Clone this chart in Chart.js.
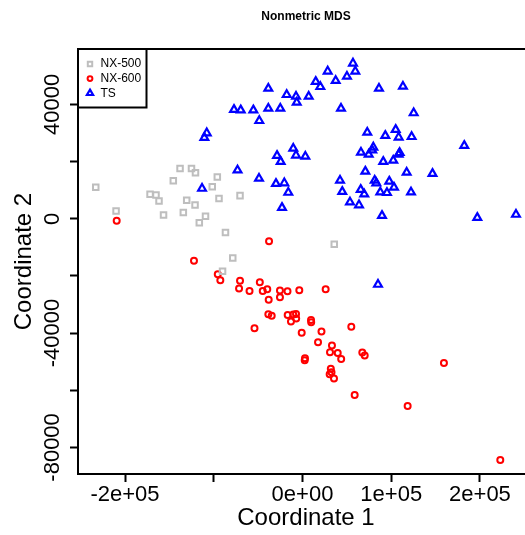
<!DOCTYPE html>
<html><head><meta charset="utf-8">
<script src="https://cdn.jsdelivr.net/npm/chart.js@4/dist/chart.umd.min.js"></script>
<style>
html,body{margin:0;padding:0;overflow:hidden;background:#fff;width:525px;height:535px}
#wrap{width:545px;height:535px;position:relative}
canvas{display:block}
</style></head>
<body><div id="wrap"><canvas id="c" width="545" height="535"></canvas></div>
<script>
const seriesNames = ['NX-500', 'NX-600', 'TS'];

const nx500X = [-233000,-210100,-171800,-165100,-161700,-156600,-145600,-138000,-134300,-130500,-125100,-120600,-121100,-116300,-109300,-101700,-96000,-94100,-86800,-78600,-90100,-70400,35800];
const nx500Y = [11000,2700,8600,8300,6200,1300,13300,17600,2200,6500,17600,16100,4800,-1400,900,11200,14600,7100,-4800,-13700,-18400,8100,-8900];

const nx600X = [-209400,-122300,-95500,-92600,-70400,-71500,-59700,-48100,-44800,-39700,-38100,-25400,-25400,-16900,-3600,26100,-37700,-38500,-34700,-54100,-16700,-10400,-7300,-7100,-13000,9600,9800,-900,21400,55000,17500,33200,31000,39700,43600,2800,2500,67400,70100,31900,32700,30600,35500,58800,118500,159400,222900];
const nx600Y = [-700,-14700,-19400,-21500,-21700,-24400,-25300,-22200,-25300,-24700,-28300,-25100,-27500,-25400,-25000,-24700,-7900,-33400,-33900,-38300,-33700,-33500,-33300,-34900,-35900,-35400,-36200,-39900,-39400,-37800,-43200,-44300,-46700,-47000,-49100,-48800,-49500,-46800,-47800,-52500,-53700,-54400,-55900,-61700,-65500,-50500,-84400];

const tsX = [-107900,-110600,-113200,-73200,56900,59500,28400,50100,37400,14900,20100,86200,-38500,-17800,-7300,-6500,7000,-77200,-69600,-55400,-38500,-25000,-48700,43400,-28700,-24600,-10400,-7300,3200,-49000,-29900,-20500,-16000,-23100,113200,125300,182300,146500,89600,197000,240600,85100,73000,93300,105000,108400,123000,79800,78600,65900,74600,109500,108400,91000,102300,70800,117400,42300,81400,83200,97800,103100,44800,65600,69600,87700,95200,122300,53500,63700];
const tsY = [30000,28400,10600,17000,54400,51600,51600,49800,48300,48000,46200,45600,45600,43400,42800,40700,42800,38200,38000,38000,38600,38600,34300,38600,22100,20000,24600,22200,21800,14100,12300,12500,9200,3900,46300,37000,25600,15800,1100,400,1500,-23000,30200,29100,31200,28500,28700,25000,24000,23200,22500,23100,22500,20000,20400,16600,16200,13400,13400,12500,13100,11000,9500,10200,8600,9300,9100,9300,5800,4800];

const xTickValues = [-200000, -100000, 0, 100000, 200000];
const xTickLabels = ['-2e+05', '', '0e+00', '1e+05', '2e+05'];
const yTickValues = [40000, 20000, 0, -20000, -40000, -60000, -80000];
const yTickLabels = ['40000', '', '0', '', '-40000', '', '-80000'];

const xMin = -253000, xMax = 260900;
const yMin = -89300, yMax = 59400;

const FONT = "'Liberation Sans', Arial, Helvetica, sans-serif";

function pts(xs, ys) { return xs.map((x, i) => ({x: x, y: ys[i]})); }

const framePlugin = {
  id: 'frameBox',
  afterDatasetsDraw(chart) {
    const {ctx, chartArea: a} = chart;
    ctx.save();
    ctx.lineWidth = 2;
    ctx.strokeStyle = '#000';
    ctx.strokeRect(a.left, a.top, a.right - a.left, a.bottom - a.top);
    ctx.restore();
  }
};

const yLabelPlugin = {
  id: 'yLabels',
  afterDraw(chart) {
    const {ctx} = chart;
    const ys = chart.scales.y;
    ctx.save();
    ctx.font = '22px ' + FONT;
    ctx.fillStyle = '#000';
    ctx.textAlign = 'center';
    ctx.textBaseline = 'middle';
    yTickValues.forEach((v, i) => {
      const lab = yTickLabels[i];
      if (!lab) return;
      const py = ys.getPixelForValue(v);
      ctx.save();
      ctx.translate(53, py);
      ctx.rotate(-Math.PI / 2);
      ctx.fillText(lab, 0, 0);
      ctx.restore();
    });
    ctx.restore();
  }
};

const legendBoxPlugin = {
  id: 'legendBox',
  afterDraw(chart) {
    const {ctx, chartArea: a} = chart;
    const x0 = a.left, y0 = a.top, w = 68.5, h = 58.5;
    ctx.save();
    ctx.fillStyle = '#fff';
    ctx.fillRect(x0, y0, w, h);
    ctx.lineWidth = 2;
    ctx.strokeStyle = '#000';
    ctx.strokeRect(x0, y0, w, h);
    chart.data.datasets.forEach((ds, i) => {
      const cy = y0 + 15 + i * 14.6;
      ctx.save();
      ctx.strokeStyle = ds.borderColor;
      ctx.fillStyle = 'rgba(0,0,0,0)';
      ctx.lineWidth = ds.borderWidth;
      Chart.helpers.drawPoint(ctx, {pointStyle: ds.pointStyle, rotation: 0, radius: ds.pointRadius * 0.8, borderWidth: ds.borderWidth}, x0 + 12, cy);
      ctx.restore();
      ctx.fillStyle = '#000';
      ctx.font = '12px ' + FONT;
      ctx.textAlign = 'left';
      ctx.textBaseline = 'middle';
      ctx.fillText(ds.label, x0 + 22.5, cy);
    });
    ctx.restore();
  }
};

new Chart(document.getElementById('c'), {
  type: 'scatter',
  data: {
    datasets: [
      {label: seriesNames[0], data: pts(nx500X, nx500Y), pointStyle: 'rect', pointRadius: 3.9, borderWidth: 2, borderColor: '#BEBEBE', backgroundColor: 'rgba(0,0,0,0)', pointBackgroundColor: 'rgba(0,0,0,0)'},
      {label: seriesNames[1], data: pts(nx600X, nx600Y), pointStyle: 'circle', pointRadius: 3, borderWidth: 2, borderColor: '#FF0000', backgroundColor: 'rgba(0,0,0,0)', pointBackgroundColor: 'rgba(0,0,0,0)'},
      {label: seriesNames[2], data: pts(tsX, tsY), pointStyle: 'triangle', pointRadius: 4.5, borderWidth: 2.2, borderColor: '#0000FF', backgroundColor: 'rgba(0,0,0,0)', pointBackgroundColor: 'rgba(0,0,0,0)'}
    ]
  },
  options: {
    responsive: false,
    animation: false,
    events: [],
    layout: {padding: {left: 0, right: 11, top: 0, bottom: 0}},
    plugins: {
      legend: {display: false},
      tooltip: {enabled: false},
      title: {display: true, text: 'Nonmetric MDS', fullSize: false, color: '#000',
        font: {family: FONT, size: 12, weight: 'bold'}, padding: {top: 9, bottom: 25.6}}
    },
    scales: {
      x: {
        type: 'linear', position: 'bottom', min: xMin, max: xMax,
        afterBuildTicks: s => { s.ticks = xTickValues.map(v => ({value: v})); },
        afterFit: s => { s.height = 61; },
        ticks: {autoSkip: false, maxRotation: 0, padding: 0, color: '#000', font: {family: FONT, size: 22},
          callback: (v, i) => xTickLabels[i]},
        grid: {drawOnChartArea: false, drawTicks: true, tickLength: 8, tickWidth: 2, tickColor: '#000'},
        border: {display: false},
        title: {display: true, text: 'Coordinate 1', color: '#000', font: {family: FONT, size: 24}, padding: {top: 0, bottom: 2}}
      },
      y: {
        type: 'linear', position: 'left', min: yMin, max: yMax,
        afterBuildTicks: s => { s.ticks = yTickValues.map(v => ({value: v})); },
        afterFit: s => { s.width = 78; },
        ticks: {display: false},
        grid: {drawOnChartArea: false, drawTicks: true, tickLength: 8, tickWidth: 2, tickColor: '#000'},
        border: {display: false},
        title: {display: true, text: 'Coordinate 2', color: '#000', font: {family: FONT, size: 24}, padding: {top: 10, bottom: 0}}
      }
    }
  },
  plugins: [framePlugin, yLabelPlugin, legendBoxPlugin]
});
</script>
</body></html>
